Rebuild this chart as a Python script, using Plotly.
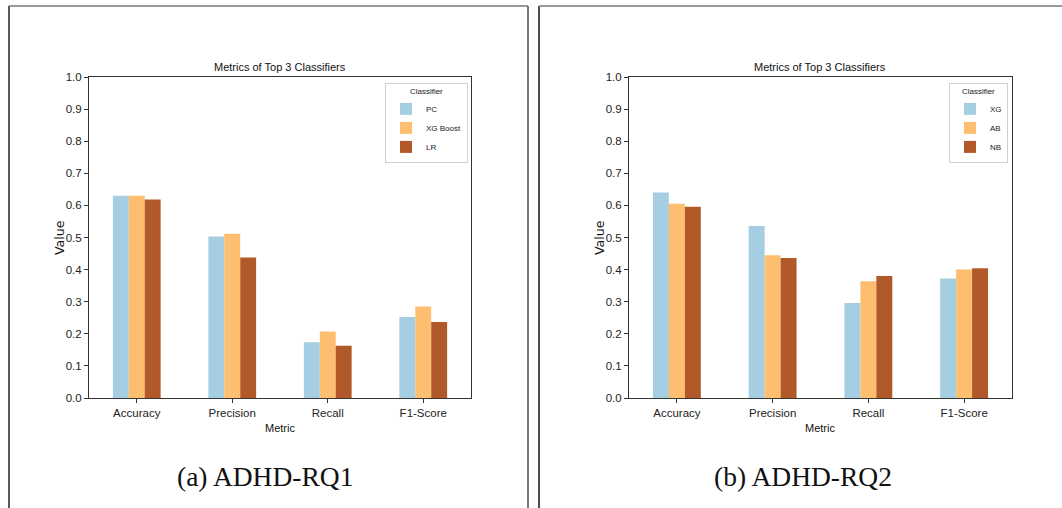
import plotly.graph_objects as go

# Metrics shown on the x axis
metrics = ["Accuracy", "Precision", "Recall", "F1-Score"]

# (a) ADHD-RQ1 classifiers
rq1_names = ["PC", "XG Boost", "LR"]
rq1_pc = [0.630, 0.503, 0.174, 0.252]
rq1_xgboost = [0.630, 0.512, 0.207, 0.285]
rq1_lr = [0.618, 0.438, 0.163, 0.237]

# (b) ADHD-RQ2 classifiers
rq2_names = ["XG", "AB", "NB"]
rq2_xg = [0.640, 0.536, 0.296, 0.372]
rq2_ab = [0.605, 0.445, 0.364, 0.400]
rq2_nb = [0.596, 0.436, 0.380, 0.404]

y_ticks = [0.0, 0.1, 0.2, 0.3, 0.4, 0.5, 0.6, 0.7, 0.8, 0.9, 1.0]

colors = ["#a6cee3", "#fdbf6f", "#b15928"]

W, H = 1062, 508
SANS = "Liberation Sans, Arial, sans-serif"


def px(x):
    return x / W


def py(y):
    return 1 - y / H


fig = go.Figure()

panels = [
    ("x", "y", "legend", rq1_names, [rq1_pc, rq1_xgboost, rq1_lr]),
    ("x2", "y2", "legend2", rq2_names, [rq2_xg, rq2_ab, rq2_nb]),
]
for xa, ya, lg, names, series in panels:
    for name, vals, col in zip(names, series, colors):
        fig.add_trace(go.Bar(
            x=metrics, y=vals, name=name, xaxis=xa, yaxis=ya, legend=lg,
            marker=dict(color=col, line=dict(width=0)),
        ))

axis_common = dict(
    showline=True, linecolor="#333333", linewidth=1, mirror=True,
    ticks="outside", ticklen=4, tickcolor="#333333",
    showgrid=False, zeroline=False, automargin=False,
    tickfont=dict(family=SANS, size=11.5, color="#222222"),
)

left_dom = [px(89), px(471)]
right_dom = [px(629), px(1012)]
y_dom = [py(398), py(77)]

legend_common = dict(
    yanchor="top", xanchor="right",
    bgcolor="white", bordercolor="#d0d0d0", borderwidth=1,
    font=dict(family=SANS, size=8, color="#222222"),
    title=dict(text="Classifier", side="top center",
               font=dict(family=SANS, size=8, color="#222222")),
    tracegroupgap=0, itemwidth=30,
)

fig.update_layout(
    width=W, height=H,
    margin=dict(l=0, r=0, t=0, b=0, pad=0, autoexpand=False),
    paper_bgcolor="white", plot_bgcolor="white",
    barmode="group", bargap=0.5, bargroupgap=0,
    xaxis=dict(domain=left_dom, anchor="y", **axis_common),
    yaxis=dict(domain=y_dom, anchor="x", range=[0, 1], tickvals=y_ticks,
               tickformat=".1f", **axis_common),
    xaxis2=dict(domain=right_dom, anchor="y2", **axis_common),
    yaxis2=dict(domain=y_dom, anchor="x2", range=[0, 1], tickvals=y_ticks,
                tickformat=".1f", **axis_common),
    legend=dict(x=px(468), y=py(83), **legend_common),
    legend2=dict(x=px(1008), y=py(83), **legend_common),
)

texts = [
    # chart titles
    (px(280), py(67), "Metrics of Top 3 Classifiers", SANS, 11, 0),
    (px(820), py(67), "Metrics of Top 3 Classifiers", SANS, 11, 0),
    # x axis titles
    (px(280), py(428), "Metric", SANS, 11, 0),
    (px(820), py(428), "Metric", SANS, 11, 0),
    # y axis titles
    (px(59), py(238), "Value", "DejaVu Sans", 12.5, -90),
    (px(599), py(238), "Value", "DejaVu Sans", 12.5, -90),
    # sub-figure captions
    (px(265), py(476), "(a) ADHD-RQ1", "Liberation Serif, serif", 27.5, 0),
    (px(803), py(476), "(b) ADHD-RQ2", "Liberation Serif, serif", 27.5, 0),
]
annotations = []
for x, y, t, fam, size, ang in texts:
    annotations.append(dict(
        x=x, y=y, xref="paper", yref="paper", text=t, showarrow=False,
        xanchor="center", yanchor="middle", textangle=ang,
        font=dict(family=fam, size=size, color="#111111"),
    ))
fig.update_layout(annotations=annotations)

# Sub-figure frames
shapes = [
    dict(type="line", x0=px(9), x1=px(9), y0=py(6), y1=0, line=dict(color="#222222", width=1.5)),
    dict(type="line", x0=px(9), x1=px(528), y0=py(6), y1=py(6), line=dict(color="#777777", width=1.5)),
    dict(type="line", x0=px(528), x1=px(528), y0=py(6), y1=0, line=dict(color="#7a7a7a", width=2)),
    dict(type="line", x0=px(539), x1=px(539), y0=py(6), y1=0, line=dict(color="#111111", width=1.5)),
    dict(type="line", x0=px(539), x1=1, y0=py(6), y1=py(6), line=dict(color="#777777", width=1.5)),
]
for s in shapes:
    s.update(xref="paper", yref="paper")
fig.update_layout(shapes=shapes)

fig.write_html("out.html")
